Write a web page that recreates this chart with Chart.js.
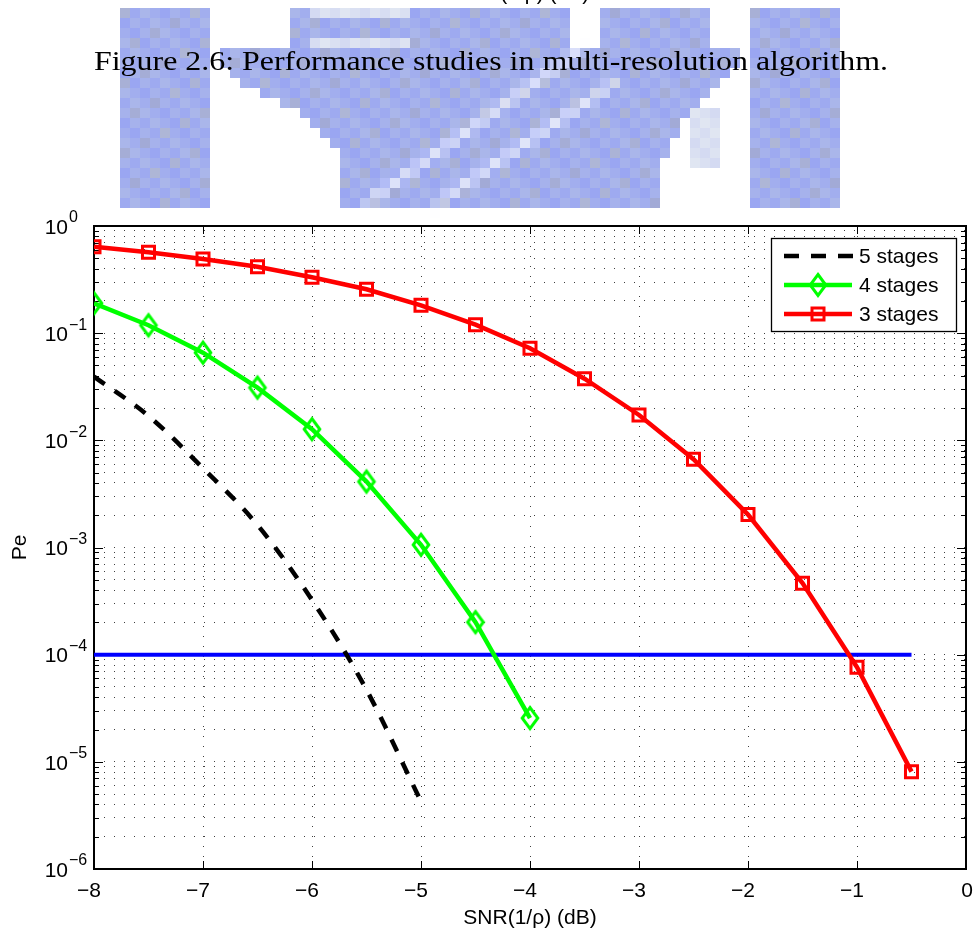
<!DOCTYPE html>
<html><head><meta charset="utf-8">
<script src="https://cdn.jsdelivr.net/npm/chart.js@4.4.0/dist/chart.umd.min.js"></script>
<style>
html,body{margin:0;padding:0;background:#fff;width:978px;height:935px;overflow:hidden;position:relative}
#wm{position:absolute;left:0;top:-2px;width:980px;height:220px;image-rendering:pixelated}
#frag{position:absolute;left:456px;top:-18px;white-space:nowrap;font-family:"Liberation Sans",Arial,sans-serif;font-size:21px;line-height:21px;color:#000}
#cap{position:absolute;left:94px;top:48px;white-space:nowrap;font-family:"Liberation Serif","Times New Roman",Times,serif;font-size:27px;line-height:27px;color:#000;transform-origin:0 0}
#c{position:absolute;left:0;top:0}
</style></head><body>
<canvas id="wm" width="98" height="22"></canvas>
<div id="frag">SNR(1/ρ) (dB)</div>
<div id="cap">Figure 2.6: Performance studies in multi-resolution algorithm.</div>
<canvas id="c" width="978" height="935"></canvas>
<script>
// ---------------- data ----------------
const snr3 = [-8,-7.5,-7,-6.5,-6,-5.5,-5,-4.5,-4,-3.5,-3,-2.5,-2,-1.5,-1,-0.5];
const pe3  = [0.641,0.568,0.492,0.417,0.332,0.257,0.182,0.120,0.0723,0.0376,0.01725,0.00666,0.00203,4.65e-4,7.64e-5,8.1e-6];
const snr4 = [-8,-7.5,-7,-6.5,-6,-5.5,-5,-4.5,-4];
const pe4  = [0.190,0.1185,0.0658,0.031,0.0127,0.00412,0.00106,2.01e-4,2.56e-5];
const snr5 = [-8,-7.5,-7,-6.5,-6,-5.5,-5];
const pe5  = [0.0393,0.0169,0.0055,0.00162,3.24e-4,4.7e-5,4.27e-6];
const thrX = [-8,-0.5];
const thrY = [1e-4,1e-4];
const seriesNames = ['5 stages','4 stages','3 stages'];
const xTickValues = [-8,-7,-6,-5,-4,-3,-2,-1,0];
const xTickLabels = ['\u22128','\u22127','\u22126','\u22125','\u22124','\u22123','\u22122','\u22121','0'];
const yTickExponents = [0,-1,-2,-3,-4,-5,-6];
const yTickLabels = ['0','\u22121','\u22122','\u22123','\u22124','\u22125','\u22126'];
const xTitle = 'SNR(1/\u03c1) (dB)';
const yTitle = 'Pe';

// ---------------- caption width (LaTeX-like) ----------------
const cap = document.getElementById('cap');
const cw = cap.getBoundingClientRect().width;
cap.style.transform = 'scaleX(' + (794 / cw) + ')';

// ---------------- watermark (decorative, pixelated) ----------------
(function(){
  const g = document.getElementById('wm').getContext('2d');
  function blk(j,i,light){
    const v = ((i*7 + j*13) % 5) - 2;
    if (light) g.fillStyle = 'rgb(' + (218+v*3) + ',' + (224+v*3) + ',' + (242) + ')';
    else if (((i*3 + j*5) % 7) === 0) g.fillStyle = 'rgb(' + (168+v*3) + ',' + (176+v*3) + ',' + (214) + ')';
    else g.fillStyle = 'rgb(' + (162+v*4) + ',' + (174+v*4) + ',' + (238-v*2) + ')';
    g.fillRect(j,i,1,1);
  }
  function band(j0,j1,i0,i1,light){ for(let i=i0;i<=i1;i++) for(let j=j0;j<=j1;j++) blk(j,i,light); }
  band(12,20,1,20);           // left column
  band(75,83,1,20);           // right column
  band(29,56,1,4);            // top "building"
  band(31,40,1,1,true); band(31,40,4,4,true);
  band(60,70,1,4);            // right top part
  const rows = {5:[22,73],6:[22,73],7:[23,72],8:[24,71],9:[26,70],10:[28,69],11:[30,68],12:[31,67],13:[32,67],14:[33,66],15:[34,66],16:[34,65],17:[34,65],18:[34,65],19:[34,65],20:[34,65]};
  Object.keys(rows).forEach(k=>{ band(rows[k][0], rows[k][1], +k, +k); });
  band(69,71,11,16,true);
  g.strokeStyle = '#f4f7ff'; g.lineWidth = 0.75;
  g.beginPath(); g.moveTo(36.6,20.5); g.lineTo(58.3,5); g.stroke();
  g.beginPath(); g.moveTo(43.7,20.5); g.lineTo(61.7,8.3); g.stroke();
})();

// ---------------- markers ----------------
function makeDiamond(){
  const c = document.createElement('canvas'); c.width = 26; c.height = 30;
  const g = c.getContext('2d');
  g.strokeStyle = '#00ff00'; g.lineWidth = 3;
  g.beginPath(); g.moveTo(13,4.5); g.lineTo(20.8,15); g.lineTo(13,25.5); g.lineTo(5.2,15); g.closePath(); g.stroke();
  return c;
}
const diamond = makeDiamond();
const toPts = (xs, ys) => xs.map((x,i)=>({x:x, y:ys[i]}));

function decadeTicks(){
  const t = [];
  for (let e=-6; e<=0; e++) for (let m=1; m<=9; m++){ const v = m*Math.pow(10,e); if (v>1.0000001) break; t.push(v); }
  return t;
}

const FONT = '"Liberation Sans", Arial, sans-serif';

const axesPlugin = {
  id: 'matlabAxes',
  beforeDatasetsDraw(chart){
    const {ctx, chartArea:a, scales:{x, y}} = chart;
    ctx.save();
    ctx.strokeStyle = '#000'; ctx.lineWidth = 1;
    const ln = (x1,y1,x2,y2)=>{ ctx.beginPath(); ctx.moveTo(x1,y1); ctx.lineTo(x2,y2); ctx.stroke(); };
    decadeTicks().forEach(v=>{
      const py = Math.round(y.getPixelForValue(v)) + 0.5;
      const major = Math.abs(Math.log10(v) - Math.round(Math.log10(v))) < 1e-9;
      const len = major ? 9 : 5;
      ln(a.left, py, a.left+len, py); ln(a.right, py, a.right-len, py);
    });
    xTickValues.forEach(v=>{
      const px = Math.round(x.getPixelForValue(v)) + 0.5;
      ln(px, a.bottom, px, a.bottom-8); ln(px, a.top, px, a.top+8);
    });
    ctx.lineWidth = 2;
    ctx.strokeRect(a.left, a.top, a.right-a.left, a.bottom-a.top);
    ctx.restore();
  },
  afterDraw(chart){
    const {ctx, chartArea:a, scales:{x, y}} = chart;
    ctx.save();
    ctx.fillStyle = '#000';
    // y tick labels 10^n
    yTickExponents.forEach((e,i)=>{
      const py = y.getPixelForValue(Math.pow(10,e));
      ctx.font = '21px ' + FONT; ctx.textAlign = 'right'; ctx.textBaseline = 'middle';
      ctx.fillText('10', 68, py + 2);
      ctx.font = '16px ' + FONT; ctx.textAlign = 'left';
      ctx.fillText(yTickLabels[i], 69, py - 8);
    });
    // x tick labels
    ctx.font = '21px ' + FONT; ctx.textAlign = 'center'; ctx.textBaseline = 'middle';
    xTickValues.forEach((v,i)=>{
      const px = x.getPixelForValue(v);
      ctx.fillText(xTickLabels[i], px + (v < 0 ? -5 : 1), 891);
    });
    // axis titles
    ctx.fillText(xTitle, (a.left + a.right)/2, 918);
    ctx.save(); ctx.translate(20, (a.top + a.bottom)/2); ctx.rotate(-Math.PI/2);
    ctx.fillText(yTitle, 0, 0); ctx.restore();
    // legend
    const bx = 771, by = 238, bw = 185, bh = 93;
    ctx.fillStyle = '#fff'; ctx.fillRect(bx, by, bw, bh);
    ctx.strokeStyle = '#000'; ctx.lineWidth = 1.3; ctx.strokeRect(bx+0.5, by+0.5, bw, bh);
    const rowsY = [256, 285, 314];
    const x0 = 784, x1 = 852, mx = 818;
    // 5 stages
    ctx.lineWidth = 4.5; ctx.strokeStyle = '#000'; ctx.setLineDash([15,12]);
    ctx.beginPath(); ctx.moveTo(x0, rowsY[0]); ctx.lineTo(x1+1, rowsY[0]); ctx.stroke();
    ctx.setLineDash([]);
    // 4 stages
    ctx.strokeStyle = '#00ff00';
    ctx.beginPath(); ctx.moveTo(x0, rowsY[1]); ctx.lineTo(x1, rowsY[1]); ctx.stroke();
    ctx.drawImage(diamond, mx - 13, rowsY[1] - 15);
    // 3 stages
    ctx.strokeStyle = '#ff0000';
    ctx.beginPath(); ctx.moveTo(x0, rowsY[2]); ctx.lineTo(x1, rowsY[2]); ctx.stroke();
    ctx.lineWidth = 3; const s = 6;
    ctx.strokeRect(mx - s, rowsY[2] - s, 2*s, 2*s);
    ctx.fillStyle = '#000'; ctx.font = '21px ' + FONT; ctx.textAlign = 'left'; ctx.textBaseline = 'middle';
    seriesNames.forEach((n,i)=> ctx.fillText(n, 859, rowsY[i] + 1));
    ctx.restore();
  }
};

const gridColor = 'rgba(0,0,0,0.75)';
new Chart(document.getElementById('c').getContext('2d'), {
  type: 'line',
  data: { datasets: [
    { label: seriesNames[0], data: toPts(snr5, pe5), borderColor: '#000', borderWidth: 4.5, borderDash: [13,12],
      pointRadius: 0, cubicInterpolationMode: 'monotone', fill: false },
    { label: seriesNames[1], data: toPts(snr4, pe4), borderColor: '#00ff00', borderWidth: 4.5,
      pointStyle: diamond, pointRadius: 10, fill: false },
    { label: seriesNames[2], data: toPts(snr3, pe3), borderColor: '#ff0000', borderWidth: 4.5,
      pointStyle: 'rect', pointRadius: 8.5, pointBorderWidth: 3, pointBorderColor: '#ff0000',
      pointBackgroundColor: 'rgba(0,0,0,0)', fill: false },
    { label: 'threshold', data: toPts(thrX, thrY), borderColor: '#0000ff', borderWidth: 4, pointRadius: 0, fill: false }
  ]},
  options: {
    responsive: false, animation: false, devicePixelRatio: 1,
    layout: { padding: { left: 94, top: 226, right: 12, bottom: 66 }, autoPadding: false },
    plugins: { legend: { display: false }, tooltip: { enabled: false } },
    scales: {
      x: { type: 'linear', min: -8, max: 0,
        afterBuildTicks: s => { s.ticks = xTickValues.map(v => ({value: v})); },
        afterFit: s => { s.height = 0; },
        ticks: { display: false },
        grid: { color: gridColor, lineWidth: 1, drawTicks: false },
        border: { display: false, dash: [1,9] } },
      y: { type: 'logarithmic', min: 1e-6, max: 1,
        afterBuildTicks: s => { s.ticks = decadeTicks().map(v => ({value: v})); },
        afterFit: s => { s.width = 0; },
        ticks: { display: false },
        grid: { color: gridColor, lineWidth: 1, drawTicks: false },
        border: { display: false, dash: [1,9] } }
    }
  },
  plugins: [axesPlugin]
});
</script>
</body></html>
